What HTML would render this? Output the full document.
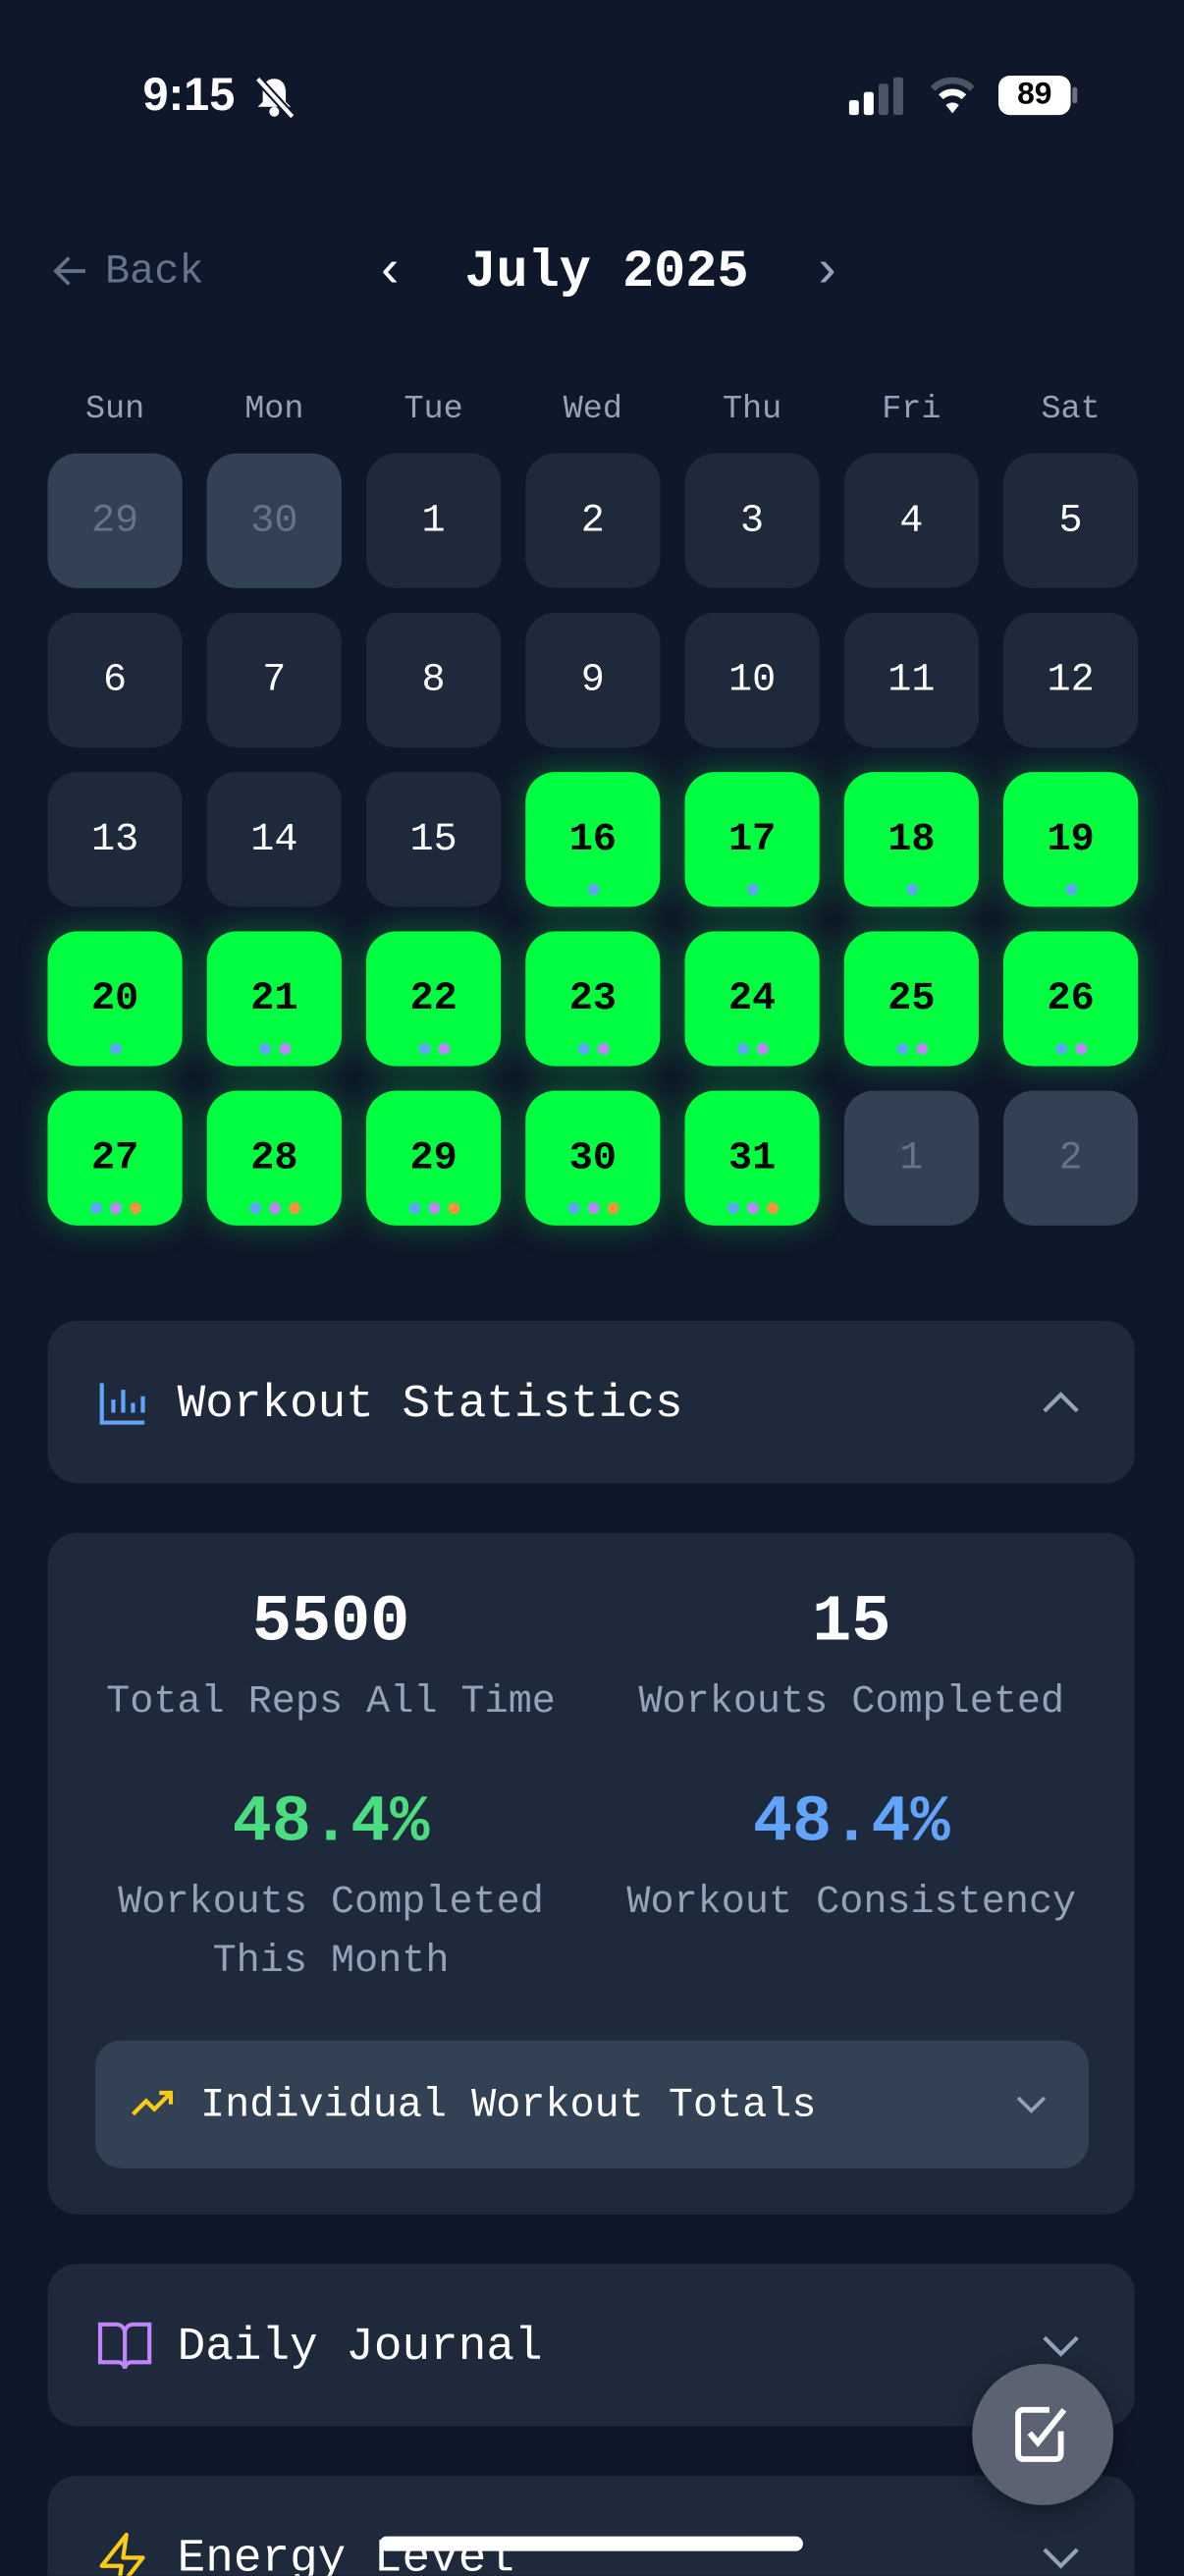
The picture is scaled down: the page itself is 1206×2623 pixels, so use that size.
<!DOCTYPE html>
<html><head><meta charset="utf-8">
<style>
html,body{margin:0;padding:0;background:#0f172a;width:1206px;height:2622px;overflow:hidden}
#root{position:absolute;left:0;top:0;width:721px;height:1568px;transform:scale(1.67268);transform-origin:0 0;font-family:"Liberation Mono",monospace;color:#fff;background:#0f172a;overflow:hidden}
.abs{position:absolute}
.card{position:absolute;left:29px;width:662px;background:#1e293b;border-radius:18px}
.cell{position:absolute;width:82px;height:82px;border-radius:18px;background:#1e293b;display:flex;align-items:center;justify-content:center;font-size:24px;color:#fff}
.cell.out{background:#334155;color:#64748b}
.cell.on{background:#00ff41;color:#000;font-weight:bold;box-shadow:0 0 18px rgba(0,255,65,.35)}
.dots{position:absolute;bottom:7px;left:0;right:0;display:flex;justify-content:center;gap:5px}
.dot{width:7px;height:7px;border-radius:50%}
.wd{position:absolute;top:238px;width:82px;text-align:center;font-size:20px;color:#94a3b8}
.lbl{position:absolute;text-align:center;font-size:24px;color:#94a3b8;line-height:36px}
.big{position:absolute;text-align:center;font-size:40px;font-weight:bold}
</style></head><body>
<div id="root">
  <div class="abs" style="left:87px;top:42px;font-family:'Liberation Sans',sans-serif;font-size:28px;font-weight:bold">9:15</div>
  <svg class="abs" style="left:154px;top:46px" width="26" height="26" viewBox="0 0 26 26"><path d="M13 2c-5 0-7 4-7 8v6l-3 3h20l-3-3v-6c0-4-2-8-7-8z" fill="#fff"/><circle cx="13" cy="22" r="3" fill="#fff"/><line x1="3" y1="2" x2="24" y2="25" stroke="#0f172a" stroke-width="5"/><line x1="3" y1="2" x2="24" y2="25" stroke="#fff" stroke-width="2.5"/></svg>
  <svg class="abs" style="left:517px;top:47px" width="36" height="24"><rect x="0" y="14" width="6" height="9" rx="1.5" fill="#fff"/><rect x="9" y="9" width="6" height="14" rx="1.5" fill="#fff"/><rect x="18" y="4" width="6" height="19" rx="1.5" fill="#4b5563"/><rect x="27" y="0" width="6" height="23" rx="1.5" fill="#4b5563"/></svg>
  <svg class="abs" style="left:566px;top:46px" width="28" height="24" viewBox="0 0 28 24"><path d="M2 8a17 17 0 0 1 24 0" stroke="#4b5563" stroke-width="4" fill="none"/><path d="M7 13a10 10 0 0 1 14 0" stroke="#fff" stroke-width="4" fill="none"/><path d="M14 23l-4-5a6 6 0 0 1 8 0z" fill="#fff"/></svg>
  <div class="abs" style="left:608px;top:46px;width:44px;height:24px;border-radius:7px;background:#fff;color:#000;font-family:'Liberation Sans',sans-serif;font-weight:bold;font-size:19px;text-align:center;line-height:24px">89</div>
  <div class="abs" style="left:653px;top:53px;width:3px;height:10px;background:#6b7280;border-radius:2px"></div>

  <svg class="abs" style="left:32px;top:154px" width="22" height="22" viewBox="0 0 22 22"><path d="M20 11H3M10 3l-8 8 8 8" stroke="#64748b" stroke-width="2.2" fill="none"/></svg>
  <div class="abs" style="left:64px;top:151px;font-size:25px;color:#64748b">Back</div>
  <div class="abs" style="left:228px;top:147px;font-size:32px;color:#fff">&#8249;</div>
  <div class="abs" style="left:283px;top:147px;font-size:32px;font-weight:bold">July 2025</div>
  <div class="abs" style="left:494px;top:147px;font-size:32px;color:#94a3b8">&#8250;</div>

  <div id="cal"></div>

  <div class="card" style="top:804px;height:99px">
    <svg class="abs" style="left:31px;top:36px" width="30" height="28" viewBox="0 0 30 28"><path d="M2 2v24h26" stroke="#60a5fa" stroke-width="2.5" fill="none"/><path d="M9 20v-8M15 20V6M21 20v-6M27 20v-10" stroke="#60a5fa" stroke-width="2.5"/></svg>
    <div class="abs" style="left:79px;top:34px;font-size:28.5px">Workout Statistics</div>
    <svg class="abs" style="left:605px;top:41px" width="24" height="16"><path d="M2 14l10-10 10 10" stroke="#94a3b8" stroke-width="2.5" fill="none"/></svg>
  </div>

  <div class="card" style="top:933px;height:415px">
    <div class="big" style="left:0;width:345px;top:33px">5500</div>
    <div class="lbl" style="left:0;width:345px;top:86px">Total Reps All Time</div>
    <div class="big" style="left:317px;width:345px;top:33px">15</div>
    <div class="lbl" style="left:317px;width:345px;top:86px">Workouts Completed</div>
    <div class="big" style="left:0;width:345px;top:155px;color:#4ade80">48.4%</div>
    <div class="lbl" style="left:0;width:345px;top:208px">Workouts Completed<br>This Month</div>
    <div class="big" style="left:317px;width:345px;top:155px;color:#60a5fa">48.4%</div>
    <div class="lbl" style="left:317px;width:345px;top:208px">Workout Consistency</div>
    <div class="abs" style="left:29px;top:309px;width:605px;height:78px;background:#334155;border-radius:16px">
      <svg class="abs" style="left:21px;top:28px" width="28" height="20" viewBox="0 0 28 20"><path d="M2 17l8-8 5 5 10-10M18 4h7v7" stroke="#facc15" stroke-width="2.5" fill="none"/></svg>
      <div class="abs" style="left:64px;top:25px;font-size:25px">Individual Workout Totals</div>
      <svg class="abs" style="left:560px;top:32px" width="20" height="14"><path d="M2 3l8 8 8-8" stroke="#94a3b8" stroke-width="2.2" fill="none"/></svg>
    </div>
  </div>

  <div class="card" style="top:1378px;height:99px">
    <svg class="abs" style="left:30px;top:34px" width="34" height="32" viewBox="0 0 34 32"><path d="M2 3h10a5 5 0 0 1 5 5v22a4 4 0 0 0-4-4H2zM32 3H22a5 5 0 0 0-5 5v22a4 4 0 0 1 4-4h11z" stroke="#c084fc" stroke-width="2.5" fill="none"/></svg>
    <div class="abs" style="left:79px;top:34px;font-size:28.5px">Daily Journal</div>
    <svg class="abs" style="left:605px;top:43px" width="24" height="16"><path d="M2 2l10 10 10-10" stroke="#94a3b8" stroke-width="2.5" fill="none"/></svg>
  </div>

  <div class="card" style="top:1507px;height:120px">
    <svg class="abs" style="left:30px;top:34px" width="32" height="36" viewBox="0 0 32 36"><path d="M18 2L3 21h12l-2 14 15-19H16z" stroke="#facc15" stroke-width="2.5" fill="none" stroke-linejoin="round"/></svg>
    <div class="abs" style="left:79px;top:34px;font-size:28.5px">Energy Level</div>
    <svg class="abs" style="left:605px;top:43px" width="24" height="16"><path d="M2 2l10 10 10-10" stroke="#94a3b8" stroke-width="2.5" fill="none"/></svg>
  </div>

  <div class="abs" style="left:592px;top:1439px;width:86px;height:86px;border-radius:50%;background:#5b6372;box-shadow:0 4px 14px rgba(0,0,0,.4)">
    <svg class="abs" style="left:24px;top:24px" width="38" height="38" viewBox="0 0 38 38"><path d="M30 17v14a3 3 0 0 1-3 3H7a3 3 0 0 1-3-3V7a3 3 0 0 1 3-3h16" stroke="#fff" stroke-width="3.5" fill="none"/><path d="M11 18l5 6 16-20" stroke="#fff" stroke-width="3.5" fill="none"/></svg>
  </div>
  <div class="abs" style="left:231px;top:1544px;width:258px;height:9px;border-radius:5px;background:#fff"></div>
</div>
<script>
var dayNumbers=[29,30,1,2,3,4,5,6,7,8,9,10,11,12,13,14,15,16,17,18,19,20,21,22,23,24,25,26,27,28,29,30,31,1,2];
var outOfMonth=[1,1,0,0,0,0,0,0,0,0,0,0,0,0,0,0,0,0,0,0,0,0,0,0,0,0,0,0,0,0,0,0,0,1,1];
var completed=[0,0,0,0,0,0,0,0,0,0,0,0,0,0,0,0,0,1,1,1,1,1,1,1,1,1,1,1,1,1,1,1,1,0,0];
var dotCounts=[0,0,0,0,0,0,0,0,0,0,0,0,0,0,0,0,0,1,1,1,1,1,2,2,2,2,2,2,3,3,3,3,3,0,0];
var weekdays=["Sun","Mon","Tue","Wed","Thu","Fri","Sat"];
var dotColors=["#60a5fa","#c084fc","#fb923c"];
var root=document.getElementById('root');
var cal=document.getElementById('cal');
weekdays.forEach(function(w,i){
  var d=document.createElement('div');d.className='wd';d.style.left=(29+i*97)+'px';d.textContent=w;
  
  
  root.appendChild(d);
});
dayNumbers.forEach(function(n,i){
  var c=document.createElement('div');
  c.className='cell'+(outOfMonth[i]?' out':'')+(completed[i]?' on':'');
  c.style.left=(29+(i%7)*97)+'px';c.style.top=(276+Math.floor(i/7)*97)+'px';
  c.textContent=n;
  
  
  if(dotCounts[i]){
    var ds=document.createElement('div');ds.className='dots';
    for(var k=0;k<dotCounts[i];k++){var dt=document.createElement('div');dt.className='dot';dt.style.background=dotColors[k];ds.appendChild(dt);}
    c.appendChild(ds);
  }
  cal.appendChild(c);
});
</script>
</body></html>
